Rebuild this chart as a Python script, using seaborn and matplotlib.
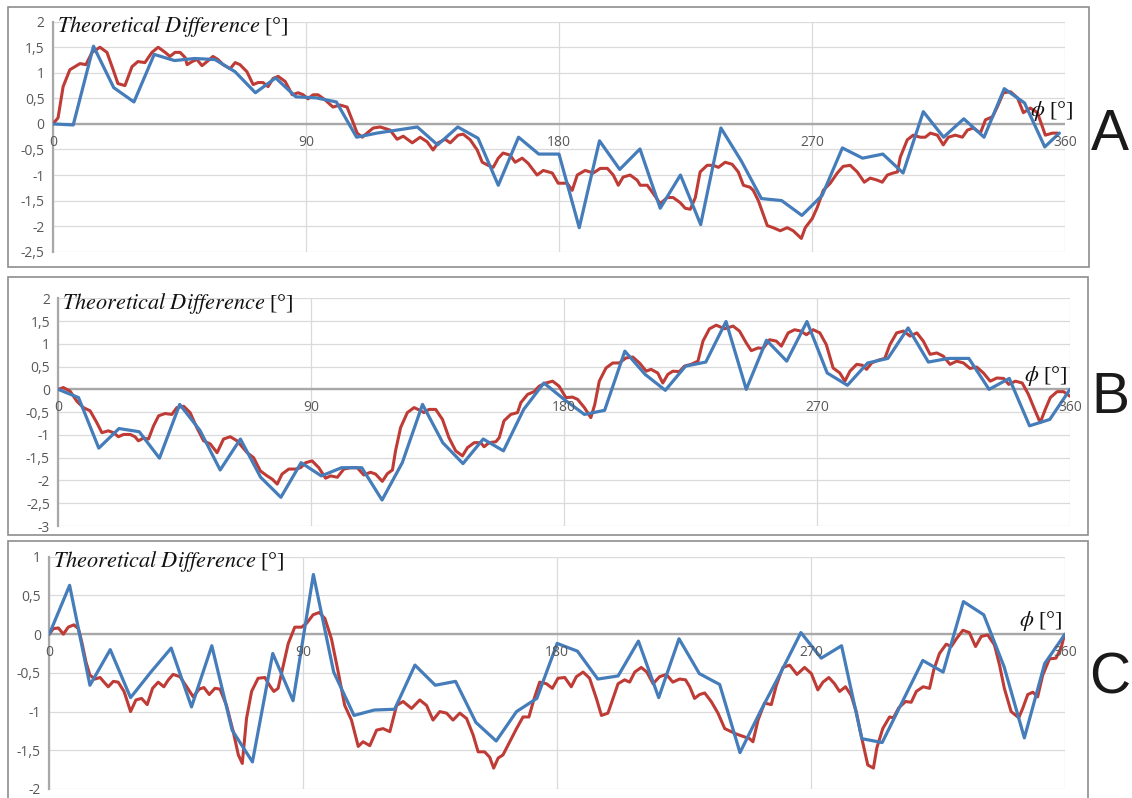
import matplotlib
matplotlib.use("Agg")
import matplotlib.pyplot as plt
from matplotlib.patches import Rectangle
import pandas as pd
import seaborn as sns

# ---------------------------------------------------------------- data
# Angle grid of the measured (blue) series, degrees
blue_phi = [0, 7.2, 14.4, 21.6, 28.8, 36, 43.2, 50.4, 57.6, 64.8, 72, 79.2, 86.4,
            93.6, 100.8, 108, 115.2, 122.4, 129.6, 136.8, 144, 151.2, 158.4, 165.6,
            172.8, 180, 187.2, 194.4, 201.6, 208.8, 216, 223.2, 230.4, 237.6, 244.8,
            252, 259.2, 266.4, 273.6, 280.8, 288, 295.2, 302.4, 309.6, 316.8, 324,
            331.2, 338.4, 345.6, 352.8, 360]
a_blue_phi = blue_phi[:-1] + [358]

a_blue_diff = [0, -0.02, 1.52, 0.71, 0.43, 1.36, 1.24, 1.28, 1.26, 1.02, 0.61, 0.90, 0.53,
               0.51, 0.43, -0.26, -0.18, -0.12, -0.06, -0.41, -0.06, -0.28, -1.20, -0.26,
               -0.59, -0.59, -2.03, -0.33, -0.89, -0.49, -1.65, -1.00, -1.97, -0.08, -0.72,
               -1.46, -1.50, -1.79, -1.40, -0.47, -0.67, -0.59, -0.96, 0.24, -0.26, 0.10,
               -0.26, 0.69, 0.41, -0.45, -0.18]
b_blue_diff = [0, -0.18, -1.29, -0.86, -0.93, -1.51, -0.33, -0.90, -1.77, -1.09, -1.93, -2.37,
               -1.61, -1.90, -1.72, -1.72, -2.43, -1.61, -0.33, -1.17, -1.63, -1.09, -1.35,
               -0.44, 0.14, -0.22, -0.55, -0.46, 0.84, 0.33, -0.02, 0.51, 0.60, 1.49, 0.0,
               1.08, 0.62, 1.49, 0.36, 0.09, 0.58, 0.68, 1.35, 0.60, 0.68, 0.68, 0.0, 0.24,
               -0.80, -0.66, 0]
c_blue_diff = [0, 0.63, -0.66, -0.20, -0.82, -0.49, -0.18, -0.94, -0.15, -1.24, -1.65, -0.25,
               -0.86, 0.77, -0.49, -1.05, -0.98, -0.97, -0.40, -0.66, -0.61, -1.14, -1.38,
               -1.00, -0.83, -0.12, -0.22, -0.58, -0.54, -0.09, -0.82, -0.06, -0.51, -0.65,
               -1.53, -1.00, -0.50, 0.02, -0.31, -0.15, -1.35, -1.40, -0.87, -0.34, -0.49,
               0.42, 0.25, -0.42, -1.34, -0.38, 0]

# Theoretical (red) series
a_red_phi = [0, 1.8, 3.6, 6.0, 9.6, 11.7, 13.9, 16.7, 19.2, 21.4, 23.1, 25.6, 28.1, 30.2,
             32.7, 35.2, 37.4, 39.9, 41.6, 43.4, 45.2, 47.0, 47.7, 49.5, 51.2, 53.0, 54.8,
             56.9, 58.7, 60.5, 63.0, 64.8, 66.5, 69.0, 71.2, 73.0, 74.7, 76.5, 78.3, 80.1,
             82.6, 85.1, 87.2, 89.0, 90.7, 92.5, 94.3, 96.8, 99.6, 102.1, 104.6, 106.4,
             108.2, 110.0, 111.7, 113.9, 116.4, 119.9, 122.4, 124.6, 127.8, 130.6, 133.1,
             135.2, 137.0, 139.5, 141.3, 144.1, 145.9, 148.4, 150.9, 152.7, 154.8, 156.6,
             158.4, 160.1, 162.6, 164.4, 166.9, 169.0, 172.2, 174.4, 177.6, 179.7, 182.9,
             184.7, 186.5, 189.3, 192.2, 194.7, 197.2, 199.3, 201.1, 202.8, 205.3, 207.8,
             208.9, 211.4, 213.5, 216.0, 218.5, 220.6, 223.1, 224.9, 226.7, 228.5, 230.2,
             232.7, 234.9, 236.7, 239.1, 241.6, 243.8, 245.6, 248.0, 249.1, 250.9, 254.1,
             256.2, 258.7, 261.2, 263.3, 266.2, 267.6, 270.1, 271.9, 274.0, 276.5, 279.0,
             281.1, 283.6, 286.1, 288.6, 290.7, 293.2, 295.0, 296.8, 298.9, 300.4, 301.4,
             303.9, 306.0, 308.5, 310.3, 312.1, 314.6, 316.7, 318.5, 321.0, 323.5, 325.3,
             327.4, 329.9, 331.7, 334.2, 335.9, 338.1, 340.6, 343.1, 345.2, 347.7, 350.2,
             353.0, 355.5, 357.3]
a_red_diff = [0, 0.12, 0.73, 1.06, 1.18, 1.16, 1.40, 1.50, 1.40, 1.06, 0.79, 0.75, 1.12, 1.22,
              1.20, 1.40, 1.50, 1.40, 1.32, 1.40, 1.40, 1.30, 1.16, 1.22, 1.26, 1.14, 1.22,
              1.32, 1.26, 1.16, 1.08, 1.20, 1.16, 1.02, 0.77, 0.81, 0.81, 0.73, 0.89, 0.93,
              0.83, 0.57, 0.61, 0.57, 0.49, 0.57, 0.57, 0.47, 0.33, 0.37, 0.33, 0.08,
              -0.18, -0.26, -0.18, -0.08, -0.06, -0.12, -0.30, -0.24, -0.37, -0.26, -0.35,
              -0.51, -0.37, -0.30, -0.37, -0.22, -0.20, -0.31, -0.51, -0.75, -0.81, -0.85,
              -0.67, -0.57, -0.61, -0.75, -0.67, -0.77, -1.00, -0.91, -0.96, -1.16, -1.16,
              -1.30, -1.00, -0.91, -0.96, -0.87, -0.87, -1.00, -1.20, -1.04, -1.00, -1.10,
              -1.20, -1.20, -1.36, -1.56, -1.44, -1.44, -1.54, -1.65, -1.67, -1.44, -0.94,
              -0.81, -0.81, -0.85, -0.75, -0.79, -0.94, -1.20, -1.24, -1.30, -1.50, -1.99,
              -2.03, -2.09, -2.03, -2.09, -2.24, -2.03, -1.85, -1.63, -1.30, -1.16, -0.96,
              -0.83, -0.81, -0.94, -1.14, -1.06, -1.10, -1.14, -1.00, -0.96, -0.94, -0.65,
              -0.31, -0.22, -0.26, -0.26, -0.18, -0.22, -0.41, -0.26, -0.22, -0.26, -0.12,
              -0.08, -0.18, 0.08, 0.14, 0.33, 0.61, 0.63, 0.51, 0.22, 0.31, 0.22,
              -0.22, -0.18, -0.18]

b_red_phi = [0, 1.8, 4.2, 6.6, 8.9, 11.3, 13.7, 15.5, 17.8, 19.6, 21.4, 23.2, 25.6, 27.3,
             28.5, 30.3, 32.1, 33.9, 35.7, 38.0, 40.4, 42.2, 44.6, 46.9, 49.3, 51.7, 54.1,
             56.5, 58.8, 61.2, 63.6, 67.2, 69.5, 71.9, 74.3, 76.1, 77.9, 79.6, 82.0, 84.4,
             86.2, 88.0, 90.3, 92.7, 95.1, 96.9, 99.3, 101.6, 104.0, 106.4, 108.7, 111.1,
             112.9, 115.3, 117.1, 118.9, 120.0, 121.8, 124.2, 126.6, 129.0, 130.1, 131.9,
             134.3, 136.7, 139.0, 141.4, 143.8, 145.6, 148.0, 150.3, 151.5, 153.3, 155.7,
             156.9, 158.6, 161.0, 163.4, 164.6, 167.0, 169.3, 171.1, 173.5, 175.9, 178.2,
             180.6, 183.0, 184.8, 187.2, 189.5, 190.9, 192.5, 194.9, 197.3, 199.6, 202.0,
             204.4, 206.8, 209.2, 210.9, 213.3, 215.1, 216.9, 218.7, 221.0, 222.8, 225.2,
             227.6, 229.4, 231.7, 234.1, 237.1, 240.1, 242.4, 244.8, 246.6, 249.0, 250.8,
             253.1, 255.5, 257.3, 259.7, 262.0, 264.2, 266.2, 268.6, 271.0, 273.3, 275.7,
             278.1, 279.9, 281.7, 284.1, 286.1, 287.6, 289.4, 291.7, 294.1, 295.9, 298.3,
             300.7, 303.1, 305.5, 307.8, 310.2, 312.6, 314.9, 317.3, 319.7, 322.1, 324.4,
             326.8, 329.2, 331.6, 334.0, 336.4, 338.2, 340.6, 343.0, 345.2, 347.6, 349.4,
             351.2, 353.0, 355.4, 357.7, 360.0]
b_red_diff = [0, 0.04, -0.04, -0.26, -0.40, -0.47, -0.73, -0.95, -0.91, -0.95, -1.04, -0.99,
              -0.99, -1.04, -1.13, -1.07, -1.09, -0.80, -0.58, -0.53, -0.55, -0.40, -0.37,
              -0.51, -0.84, -1.13, -1.20, -1.39, -1.09, -1.04, -1.13, -1.39, -1.50, -1.79,
              -1.90, -1.97, -2.08, -1.86, -1.75, -1.75, -1.72, -1.61, -1.57, -1.72, -1.95,
              -1.90, -1.93, -1.75, -1.72, -1.72, -1.88, -1.82, -1.86, -2.02, -1.85, -1.77,
              -1.35, -0.84, -0.51, -0.40, -0.47, -0.51, -0.44, -0.44, -0.66, -1.06, -1.35,
              -1.46, -1.28, -1.17, -1.17, -1.26, -1.17, -1.15, -1.06, -0.69, -0.55, -0.51,
              -0.29, -0.11, -0.05, 0.07, 0.14, 0.18, 0.07, -0.18, -0.17, -0.22, -0.40,
              -0.62, -0.33, 0.18, 0.47, 0.58, 0.58, 0.69, 0.71, 0.58, 0.40, 0.44, 0.36,
              0.14, 0.33, 0.40, 0.39, 0.51, 0.55, 0.62, 1.06, 1.33, 1.41, 1.33, 1.39, 1.28,
              1.02, 0.85, 0.91, 0.90, 1.09, 1.06, 0.95, 1.24, 1.31, 1.28, 1.20, 1.31, 1.24,
              0.98, 0.47, 0.36, 0.18, 0.40, 0.55, 0.53, 0.44, 0.58, 0.64, 0.68, 0.98, 1.24,
              1.28, 1.17, 1.24, 1.06, 0.77, 0.80, 0.73, 0.55, 0.62, 0.58, 0.46, 0.49, 0.36,
              0.18, 0.25, 0.24, 0.11, 0.18, 0.14, -0.11, -0.47, -0.73, -0.44, -0.18, -0.05,
              -0.05, -0.15]

c_red_phi = [0, 1.4, 3.2, 5.0, 6.7, 8.7, 10.3, 11.5, 13.0, 14.4, 16.2, 18.0, 19.4, 20.9,
             22.7, 24.4, 26.5, 28.8, 30.7, 32.7, 34.7, 36.6, 38.6, 40.6, 42.2, 43.9, 46.3,
             48.7, 51.0, 53.1, 54.8, 56.7, 58.7, 60.5, 62.8, 65.2, 67.0, 68.4, 69.9, 71.7,
             74.0, 76.4, 78.4, 79.6, 81.1, 82.7, 84.7, 87.0, 89.4, 91.2, 93.5, 95.7, 97.7,
             100.0, 102.4, 104.7, 107.1, 109.5, 111.2, 113.6, 116.0, 118.3, 120.7, 123.1,
             125.4, 128.4, 131.3, 133.7, 136.0, 138.4, 140.8, 143.1, 145.5, 147.9, 150.2,
             152.0, 154.3, 156.1, 157.5, 159.1, 160.8, 163.2, 165.6, 167.9, 170.0, 171.7,
             173.8, 176.2, 178.3, 180.3, 182.7, 185.0, 186.8, 189.2, 191.5, 193.9, 195.7,
             198.0, 199.8, 201.6, 203.9, 205.7, 207.5, 209.8, 211.8, 214.0, 216.3, 218.7,
             221.0, 223.4, 225.5, 227.0, 228.7, 230.5, 232.3, 234.6, 237.0, 239.4, 241.7,
             243.5, 245.8, 248.2, 249.4, 251.2, 253.5, 255.9, 257.7, 260.0, 262.4, 265.0,
             267.7, 270.1, 272.4, 274.2, 276.3, 278.3, 280.1, 282.2, 284.2, 286.0, 287.7,
             290.1, 292.1, 293.3, 295.4, 297.8, 299.2, 301.1, 303.5, 305.5, 307.3, 309.7,
             312.0, 313.5, 315.5, 317.9, 319.7, 321.5, 323.8, 326.1, 328.3, 330.3, 332.6,
             335.0, 336.8, 338.5, 340.9, 343.6, 345.0, 346.8, 348.6, 350.3, 352.1, 354.5,
             356.8, 358.6, 359.8]
c_red_diff = [0, 0.07, 0.08, 0.0, 0.09, 0.12, 0.07, -0.10, -0.36, -0.53, -0.58, -0.56, -0.62,
              -0.68, -0.61, -0.62, -0.74, -1.00, -0.85, -0.83, -0.91, -0.70, -0.62, -0.68,
              -0.59, -0.52, -0.55, -0.68, -0.81, -0.71, -0.69, -0.78, -0.70, -0.71, -0.92,
              -1.26, -1.56, -1.67, -1.09, -0.74, -0.57, -0.56, -0.68, -0.74, -0.70, -0.44,
              -0.12, 0.09, 0.09, 0.14, 0.25, 0.28, 0.20, -0.06, -0.49, -0.92, -1.11, -1.45,
              -1.39, -1.44, -1.24, -1.22, -1.26, -0.92, -0.87, -0.96, -0.85, -0.92, -1.11,
              -1.00, -1.02, -1.11, -1.02, -1.09, -1.30, -1.52, -1.52, -1.59, -1.73, -1.60,
              -1.56, -1.39, -1.22, -1.07, -1.07, -0.85, -0.62, -0.64, -0.70, -0.57, -0.56,
              -0.68, -0.55, -0.49, -0.57, -0.83, -1.05, -1.02, -0.83, -0.64, -0.59, -0.62,
              -0.49, -0.43, -0.49, -0.64, -0.55, -0.52, -0.62, -0.58, -0.59, -0.68, -0.83,
              -0.78, -0.76, -0.87, -1.02, -1.22, -1.26, -1.29, -1.32, -1.35, -1.39, -1.11,
              -0.89, -0.91, -0.66, -0.43, -0.40, -0.52, -0.43, -0.51, -0.72, -0.62, -0.56,
              -0.64, -0.74, -0.68, -0.79, -1.00, -1.30, -1.69, -1.73, -1.47, -1.22, -1.07,
              -1.08, -0.95, -0.87, -0.88, -0.74, -0.68, -0.70, -0.46, -0.25, -0.13, -0.16,
              -0.06, 0.05, 0.02, -0.16, -0.03, -0.01, -0.14, -0.40, -0.70, -1.00, -1.08,
              -0.96, -0.78, -0.75, -0.81, -0.53, -0.32, -0.31, -0.18, -0.01]

x_ticks = [0, 90, 180, 270, 360]
a_y_ticks = [2, 1.5, 1, 0.5, 0, -0.5, -1, -1.5, -2, -2.5]
b_y_ticks = [2, 1.5, 1, 0.5, 0, -0.5, -1, -1.5, -2, -2.5, -3]
c_y_ticks = [1, 0.5, 0, -0.5, -1, -1.5, -2]
letters = ["A", "B", "C"]

# ---------------------------------------------------------------- style
sns.set_theme(style="white")
plt.rcParams["font.family"] = ["Open Sans", "DejaVu Sans"]
plt.rcParams["mathtext.fontset"] = "stix"
plt.rcParams["lines.solid_joinstyle"] = "round"
plt.rcParams["lines.solid_capstyle"] = "round"

RED = "#BF3B35"
BLUE = "#457CBA"
GRID = "#DADADA"
AXIS = "#A8A8A8"
TICK = "#595959"
FRAME = "#8E8E8E"

W, H = 1132, 798
fig = plt.figure(figsize=(W / 100, H / 100), dpi=100)
fig.patch.set_facecolor("white")


def fig_rect(x0, y0, x1, y1):
    """pixel box (top-left origin) -> figure fraction rect"""
    return [x0 / W, 1 - y1 / H, (x1 - x0) / W, (y1 - y0) / H]


def fmt(v):
    return f"{v:g}".replace(".", ",")


layout = [
    # frame box, plot area, y-limits, phi-label x offset (pt), letter baseline y
    dict(frame=(7.5, 7, 1089, 267), area=(53, 21.7, 1065, 251.7), ylim=(-2.5, 2),
         phi_dx=6, letter_y=150),
    dict(frame=(7.5, 277, 1088, 535), area=(58.3, 298.3, 1070, 526), ylim=(-3, 2),
         phi_dx=-2, letter_y=413),
    dict(frame=(7.5, 541, 1088, 806), area=(49.3, 556.7, 1065, 789), ylim=(-2, 1),
         phi_dx=-1.5, letter_y=693),
]
series = [
    (a_red_phi, a_red_diff, a_blue_phi, a_blue_diff, a_y_ticks),
    (b_red_phi, b_red_diff, blue_phi, b_blue_diff, b_y_ticks),
    (c_red_phi, c_red_diff, blue_phi, c_blue_diff, c_y_ticks),
]

for lay, (rphi, rdiff, bphi, bdiff, yt), letter in zip(layout, series, letters):
    fx0, fy0, fx1, fy1 = lay["frame"]
    fig.add_artist(Rectangle((fx0 / W, 1 - fy1 / H), (fx1 - fx0) / W, (fy1 - fy0) / H,
                             transform=fig.transFigure, fill=False,
                             edgecolor=FRAME, linewidth=1.2))

    ax = fig.add_axes(fig_rect(*lay["area"]))
    ax.set_facecolor("none")

    red_df = pd.DataFrame({"phi": rphi, "diff": rdiff})
    blue_df = pd.DataFrame({"phi": bphi, "diff": bdiff})
    sns.lineplot(data=red_df, x="phi", y="diff", ax=ax, color=RED, linewidth=2.2,
                 estimator=None, sort=False, zorder=3)
    sns.lineplot(data=blue_df, x="phi", y="diff", ax=ax, color=BLUE, linewidth=2.3,
                 estimator=None, sort=False, zorder=4)

    ax.set_xlim(0, 360)
    ax.set_ylim(*lay["ylim"])
    ax.set_xlabel("")
    ax.set_ylabel("")

    ax.set_yticks(yt)
    ax.set_yticklabels([fmt(v) for v in yt])
    ax.set_xticks(x_ticks)
    ax.tick_params(axis="x", length=0, labelbottom=False)
    ax.tick_params(axis="y", length=0, pad=6, labelsize=10, labelcolor=TICK)
    ax.grid(True, color=GRID, linewidth=0.9, zorder=0)
    ax.set_axisbelow(True)

    for side in ("top", "right", "bottom"):
        ax.spines[side].set_visible(False)
    ax.spines["left"].set_color(AXIS)
    ax.spines["left"].set_linewidth(1.6)
    ax.axhline(0, color=AXIS, linewidth=1.7, zorder=2)

    for t in x_ticks:
        ax.annotate(str(t), xy=(t, 0), xytext=(0, -8), textcoords="offset points",
                    ha="center", va="top", fontsize=10, color=TICK, zorder=5)

    ax.annotate(r"$Theoretical\ Difference$ [°]", xy=(0, 1), xycoords="axes fraction",
                xytext=(3, -3.5), textcoords="offset points", ha="left", va="center",
                fontsize=16, color="#111111", family=["Liberation Serif", "DejaVu Serif"],
                zorder=6)
    ax.annotate(r"$\phi$ [°]", xy=(360, 0), xytext=(lay["phi_dx"], 1),
                textcoords="offset points", ha="right", va="bottom", fontsize=16,
                color="#111111", family=["Liberation Serif", "DejaVu Serif"],
                annotation_clip=False, zorder=6)

    fig.text(1110 / W, 1 - lay["letter_y"] / H, letter, ha="center", va="baseline",
             fontsize=41, color="#1a1a1a", family=["Liberation Sans", "DejaVu Sans"])

fig.savefig("out.png", dpi=100, facecolor="white")
